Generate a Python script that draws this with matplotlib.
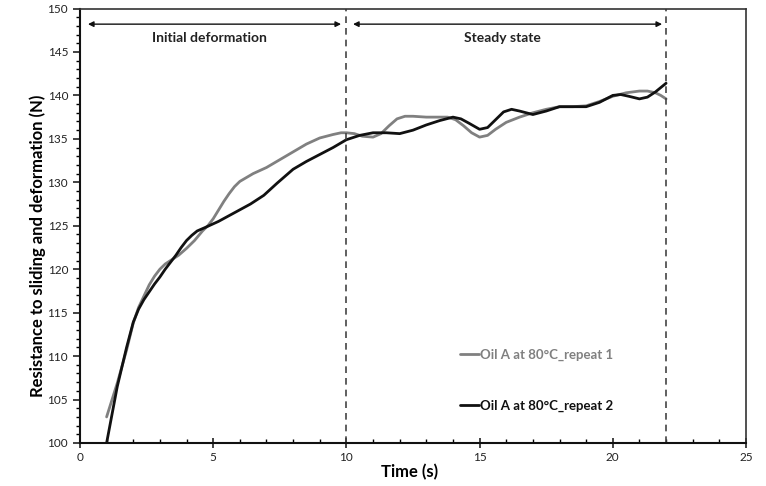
import numpy as np
import matplotlib.pyplot as plt
from matplotlib.ticker import MultipleLocator

plt.rcParams['font.family'] = ['Lato', 'DejaVu Sans']

# repeat 1 (grey)
t1 = [1.0, 1.4, 1.75, 2.0, 2.2, 2.4, 2.6, 2.8, 3.0, 3.2, 3.4, 3.7, 4.0, 4.3, 4.6, 4.8, 5.0,
      5.2, 5.4, 5.6, 5.8, 6.0, 6.5, 7.0, 7.5, 8.0, 8.5, 9.0, 9.5, 9.8, 10.0, 10.3, 10.6,
      11.0, 11.3, 11.6, 11.9, 12.2, 12.5, 13.0, 13.5, 13.8, 14.1, 14.4, 14.7, 15.0, 15.3,
      15.6, 16.0, 16.5, 17.0, 17.5, 18.0, 18.5, 19.0, 19.5, 20.0, 20.5, 21.0, 21.3, 21.6,
      21.8, 22.0]
f1 = [103.0, 106.9, 110.7, 113.8, 115.6, 116.9, 118.2, 119.2, 120.0, 120.6, 121.0, 121.6,
      122.4, 123.3, 124.4, 125.0, 125.8, 126.8, 127.8, 128.7, 129.5, 130.1, 131.0, 131.7,
      132.6, 133.5, 134.4, 135.1, 135.5, 135.7, 135.7, 135.6, 135.3, 135.2, 135.6, 136.5,
      137.3, 137.6, 137.6, 137.5, 137.5, 137.5, 137.2, 136.5, 135.7, 135.2, 135.4, 136.1,
      136.9, 137.5, 138.0, 138.4, 138.7, 138.7, 138.8, 139.3, 139.9, 140.3, 140.5, 140.5,
      140.3, 140.0, 139.6]

# repeat 2 (black)
t2 = [1.0, 1.4, 1.75, 2.0, 2.2, 2.4, 2.6, 2.8, 3.0, 3.2, 3.4, 3.6, 3.8, 4.0, 4.2, 4.4,
      4.7, 5.2, 5.8, 6.4, 6.9, 7.4, 8.0, 8.5, 9.0, 9.5, 10.0, 10.5, 11.0, 11.5, 12.0, 12.5,
      13.0, 13.5, 14.0, 14.3, 14.6, 15.0, 15.3, 15.6, 15.9, 16.2, 16.5, 17.0, 17.5, 18.0,
      18.5, 19.0, 19.5, 20.0, 20.3, 20.6, 21.0, 21.3, 21.6, 22.0]
f2 = [100.0, 106.5, 111.0, 113.9, 115.4, 116.5, 117.4, 118.3, 119.1, 120.0, 120.8, 121.6,
      122.5, 123.3, 123.9, 124.4, 124.8, 125.5, 126.5, 127.5, 128.5, 129.9, 131.5, 132.4,
      133.2, 134.0, 134.9, 135.4, 135.7, 135.7, 135.6, 136.0, 136.6, 137.1, 137.5, 137.3,
      136.8, 136.1, 136.3, 137.2, 138.1, 138.4, 138.2, 137.8, 138.2, 138.7, 138.7, 138.7,
      139.2, 140.0, 140.1, 139.9, 139.6, 139.8, 140.4, 141.4]

labels = ['Oil A at 80°C_repeat 1', 'Oil A at 80°C_repeat 2']
colors = ['#808080', '#111111']

phase_bounds = [10, 22]
phase_names = ['Initial deformation', 'Steady state']

fig = plt.figure(figsize=(7.66, 4.86), dpi=100)
ax = fig.add_axes([0.1044, 0.0885, 0.8695, 0.894])

ax.plot(t1, f1, color=colors[0], lw=2.0, label=labels[0],
        solid_joinstyle='round', solid_capstyle='round')
ax.plot(t2, f2, color=colors[1], lw=2.0, label=labels[1],
        solid_joinstyle='round', solid_capstyle='round')

for xb in phase_bounds:
    ax.axvline(xb, color='#444444', ls=(0, (4, 3)), lw=1.2)

# phase arrows and titles
arrow_y = 148.2
spans = [(0.3, 9.8), (10.25, 21.85)]
for (a, b), name in zip(spans, phase_names):
    ax.annotate('', xy=(b, arrow_y), xytext=(a, arrow_y),
                arrowprops=dict(arrowstyle='<|-|>', color='#111111', lw=1.0,
                                mutation_scale=8, shrinkA=0, shrinkB=0))
    ax.text((a + b) / 2 - 0.2, 146.6, name, ha='center', va='center',
            fontsize=10, fontweight='bold', color='#222222')

ax.set_xlim(0, 25)
ax.set_ylim(100, 150)
ax.xaxis.set_major_locator(MultipleLocator(5))
ax.xaxis.set_minor_locator(MultipleLocator(1))
ax.yaxis.set_major_locator(MultipleLocator(5))
ax.yaxis.set_minor_locator(MultipleLocator(1))

ax.tick_params(axis='x', which='major', direction='inout', length=7, width=1.2,
               labelsize=8.5, pad=3, colors='#222222')
ax.tick_params(axis='x', which='minor', direction='in', length=3, width=1.0)
ax.tick_params(axis='y', which='major', direction='out', length=5, width=1.2,
               labelsize=8.5, colors='#222222')
ax.tick_params(axis='y', which='minor', direction='out', length=3, width=1.0)

for side in ['left', 'bottom']:
    ax.spines[side].set_linewidth(1.5)
    ax.spines[side].set_color('#111111')
for side in ['top', 'right']:
    ax.spines[side].set_linewidth(1.2)
    ax.spines[side].set_color('#333333')

ax.set_xlabel('Time (s)', fontsize=12, fontweight='bold', va='center')
ax.xaxis.set_label_coords(0.495, -0.067)
ax.set_ylabel('Resistance to sliding and deformation (N)', fontsize=12,
              fontweight='bold', va='center')
ax.yaxis.set_label_coords(-0.063, 0.453)

leg = ax.legend(loc='center left', bbox_to_anchor=(0.571, 0.144), frameon=False,
                handlelength=1.4, handletextpad=0.1, labelspacing=2.9,
                borderpad=0, borderaxespad=0,
                prop={'weight': 'bold', 'size': 9.5}, labelcolor='linecolor')

fig.savefig('out.png', dpi=100)
